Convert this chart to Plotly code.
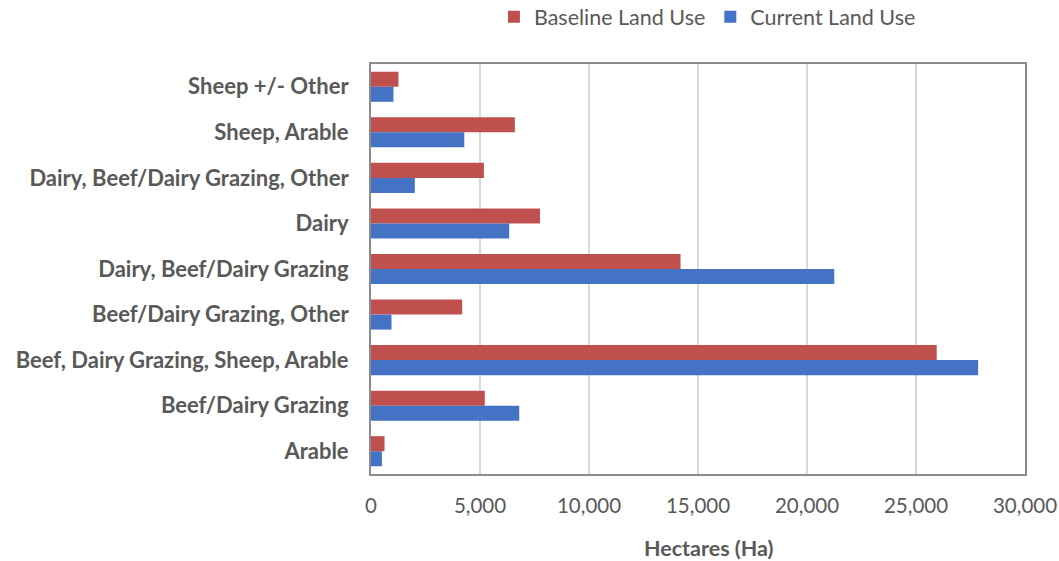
import plotly.graph_objects as go

# Land-use categories, listed top to bottom
categories = [
    "Sheep +/- Other",
    "Sheep, Arable",
    "Dairy, Beef/Dairy Grazing, Other",
    "Dairy",
    "Dairy, Beef/Dairy Grazing",
    "Beef/Dairy Grazing, Other",
    "Beef, Dairy Grazing, Sheep, Arable",
    "Beef/Dairy Grazing",
    "Arable",
]

# Area in hectares
baseline_ha = [1260, 6600, 5180, 7750, 14200, 4180, 25950, 5220, 620]
current_ha = [1030, 4280, 2010, 6340, 21250, 940, 27850, 6800, 500]

x_ticks = [0, 5000, 10000, 15000, 20000, 25000, 30000]
x_title = "Hectares (Ha)"

FONT = "Lato, Open Sans, sans-serif"
TEXT = "#595959"

fig = go.Figure()
fig.add_trace(go.Bar(
    y=categories, x=baseline_ha, orientation="h",
    name="Baseline Land Use", marker=dict(color="#C0504D", line=dict(width=0)),
))
fig.add_trace(go.Bar(
    y=categories, x=current_ha, orientation="h",
    name="Current Land Use", marker=dict(color="#4472C4", line=dict(width=0)),
))

fig.update_layout(
    width=1059, height=561,
    margin=dict(l=371, r=34, t=64, b=87),
    paper_bgcolor="white", plot_bgcolor="white",
    barmode="group", bargap=0.34, bargroupgap=0,
    font=dict(family=FONT, color=TEXT, size=20),
    legend=dict(
        orientation="h", xref="container", yref="container",
        x=0.668, xanchor="center", y=0.97, yanchor="middle",
        font=dict(size=21.5, color=TEXT), itemwidth=30,
    ),
    showlegend=True,
)

# Axis title below the tick labels, set slightly right of the plot centre
fig.add_annotation(
    text=f"<b>{x_title}</b>", xref="paper", x=0.517, xanchor="center",
    yref="paper", y=-0.18, yanchor="middle",
    showarrow=False, font=dict(size=21.5, color=TEXT),
)

fig.update_xaxes(
    range=[0, 30000], tickvals=x_ticks, tickformat=",",
    showgrid=True, gridcolor="#D9D9D9", gridwidth=2,
    showline=True, linecolor="#8C8C8C", linewidth=2, mirror=True,
    zeroline=False, ticks="", ticklabelstandoff=12, automargin=False,
    tickfont=dict(size=20.5, color=TEXT),
)
fig.update_yaxes(
    categoryorder="array", categoryarray=categories, autorange="reversed",
    showgrid=False, showline=True, linecolor="#8C8C8C", linewidth=2, mirror=True,
    ticks="", ticklabelstandoff=16, automargin=False,
    tickfont=dict(size=22, color=TEXT, weight="bold"),
)

fig.write_html("out.html")
